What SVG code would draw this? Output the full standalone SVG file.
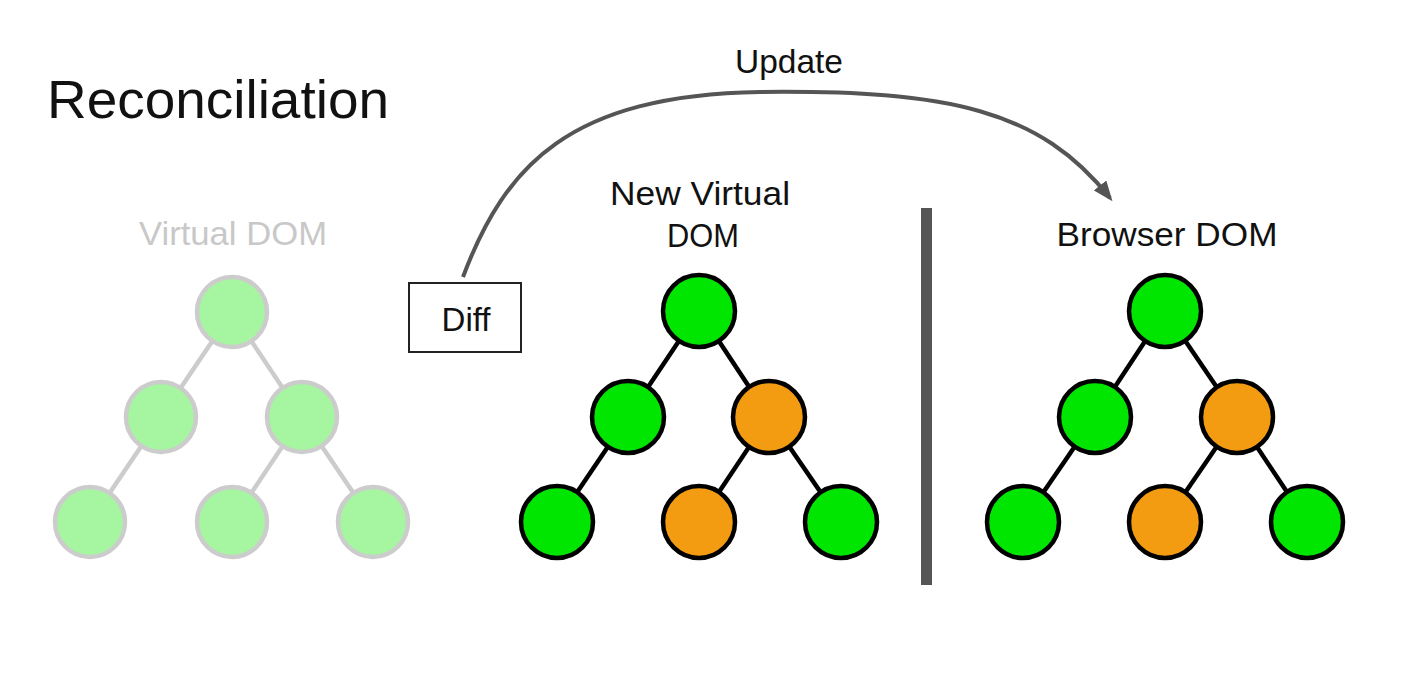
<svg xmlns="http://www.w3.org/2000/svg" width="1418" height="696" viewBox="0 0 1418 696">
<style>
text{font-family:"Liberation Sans",Arial,Helvetica,sans-serif;fill:#111;}
.lbl{font-size:34px;text-anchor:middle;}
.faded{fill:#c8c8c8;}
.e{stroke:#000;stroke-width:4.5;}
.ef{stroke:#cccccc;stroke-width:4.5;}
.g{fill:#00e600;stroke:#000;stroke-width:4.5;}
.o{fill:#f39c12;stroke:#000;stroke-width:4.5;}
.gf{fill:#a6f5a0;stroke:#cccccc;stroke-width:4.5;}
</style>
<defs>
<marker id="ah" markerUnits="userSpaceOnUse" viewBox="0 0 20 16" refX="16" refY="8" markerWidth="20" markerHeight="16" orient="auto">
<path d="M0,0 L20,8 L0,16 z" fill="#555"/>
</marker>
</defs>
<rect width="1418" height="696" fill="#fff"/>
<g id="title"><text x="47" y="118" font-size="54" textLength="342" lengthAdjust="spacingAndGlyphs">Reconciliation</text></g>
<g id="label-virtual-dom"><text class="lbl faded" x="233" y="245" textLength="188" lengthAdjust="spacingAndGlyphs">Virtual DOM</text></g>
<g id="label-new-virtual-dom"><text class="lbl" x="700" y="205" textLength="180" lengthAdjust="spacingAndGlyphs">New Virtual</text><text class="lbl" x="703" y="247" textLength="72" lengthAdjust="spacingAndGlyphs">DOM</text></g>
<g id="label-browser-dom"><text class="lbl" x="1167" y="246" textLength="221" lengthAdjust="spacingAndGlyphs">Browser DOM</text></g>
<g id="separator"><rect x="921" y="208" width="11" height="377" fill="#555"/></g>
<g id="connectors">
<line class="ef" x1="232" y1="312" x2="161" y2="417"/>
<line class="ef" x1="232" y1="312" x2="302" y2="417"/>
<line class="ef" x1="161" y1="417" x2="90" y2="522"/>
<line class="ef" x1="302" y1="417" x2="232" y2="522"/>
<line class="ef" x1="302" y1="417" x2="373" y2="522"/>
<line class="e" x1="699" y1="311" x2="628" y2="417"/>
<line class="e" x1="699" y1="311" x2="769" y2="417"/>
<line class="e" x1="628" y1="417" x2="557" y2="522"/>
<line class="e" x1="769" y1="417" x2="699" y2="522"/>
<line class="e" x1="769" y1="417" x2="841" y2="522"/>
<line class="e" x1="1165" y1="311" x2="1095" y2="417"/>
<line class="e" x1="1165" y1="311" x2="1237" y2="417"/>
<line class="e" x1="1095" y1="417" x2="1023" y2="522"/>
<line class="e" x1="1237" y1="417" x2="1165" y2="522"/>
<line class="e" x1="1237" y1="417" x2="1307" y2="522"/>
<path id="update-arrow" d="M463,277 C505,165 570,95 760,92 C950,90 1040,110 1110,198" fill="none" stroke="#555" stroke-width="4" marker-end="url(#ah)"/>
<text class="lbl" x="789" y="73" textLength="108" lengthAdjust="spacingAndGlyphs">Update</text>
</g>
<g id="diff"><rect x="409" y="283" width="112" height="69" fill="#fff" stroke="#222" stroke-width="2"/><text class="lbl" x="466" y="331" textLength="49" lengthAdjust="spacingAndGlyphs">Diff</text></g>
<g id="vdom-1"><circle class="gf" cx="232" cy="312" r="35"/></g>
<g id="vdom-2"><circle class="gf" cx="161" cy="417" r="35"/></g>
<g id="vdom-3"><circle class="gf" cx="302" cy="417" r="35"/></g>
<g id="vdom-4"><circle class="gf" cx="90" cy="522" r="35"/></g>
<g id="vdom-5"><circle class="gf" cx="232" cy="522" r="35"/></g>
<g id="vdom-6"><circle class="gf" cx="373" cy="522" r="35"/></g>
<g id="nvdom-1"><circle class="g" cx="699" cy="311" r="36"/></g>
<g id="nvdom-2"><circle class="g" cx="628" cy="417" r="36"/></g>
<g id="nvdom-3"><circle class="o" cx="769" cy="417" r="36"/></g>
<g id="nvdom-4"><circle class="g" cx="557" cy="522" r="36"/></g>
<g id="nvdom-5"><circle class="o" cx="699" cy="522" r="36"/></g>
<g id="nvdom-6"><circle class="g" cx="841" cy="522" r="36"/></g>
<g id="bdom-1"><circle class="g" cx="1165" cy="311" r="36"/></g>
<g id="bdom-2"><circle class="g" cx="1095" cy="417" r="36"/></g>
<g id="bdom-3"><circle class="o" cx="1237" cy="417" r="36"/></g>
<g id="bdom-4"><circle class="g" cx="1023" cy="522" r="36"/></g>
<g id="bdom-5"><circle class="o" cx="1165" cy="522" r="36"/></g>
<g id="bdom-6"><circle class="g" cx="1307" cy="522" r="36"/></g>
</svg>
